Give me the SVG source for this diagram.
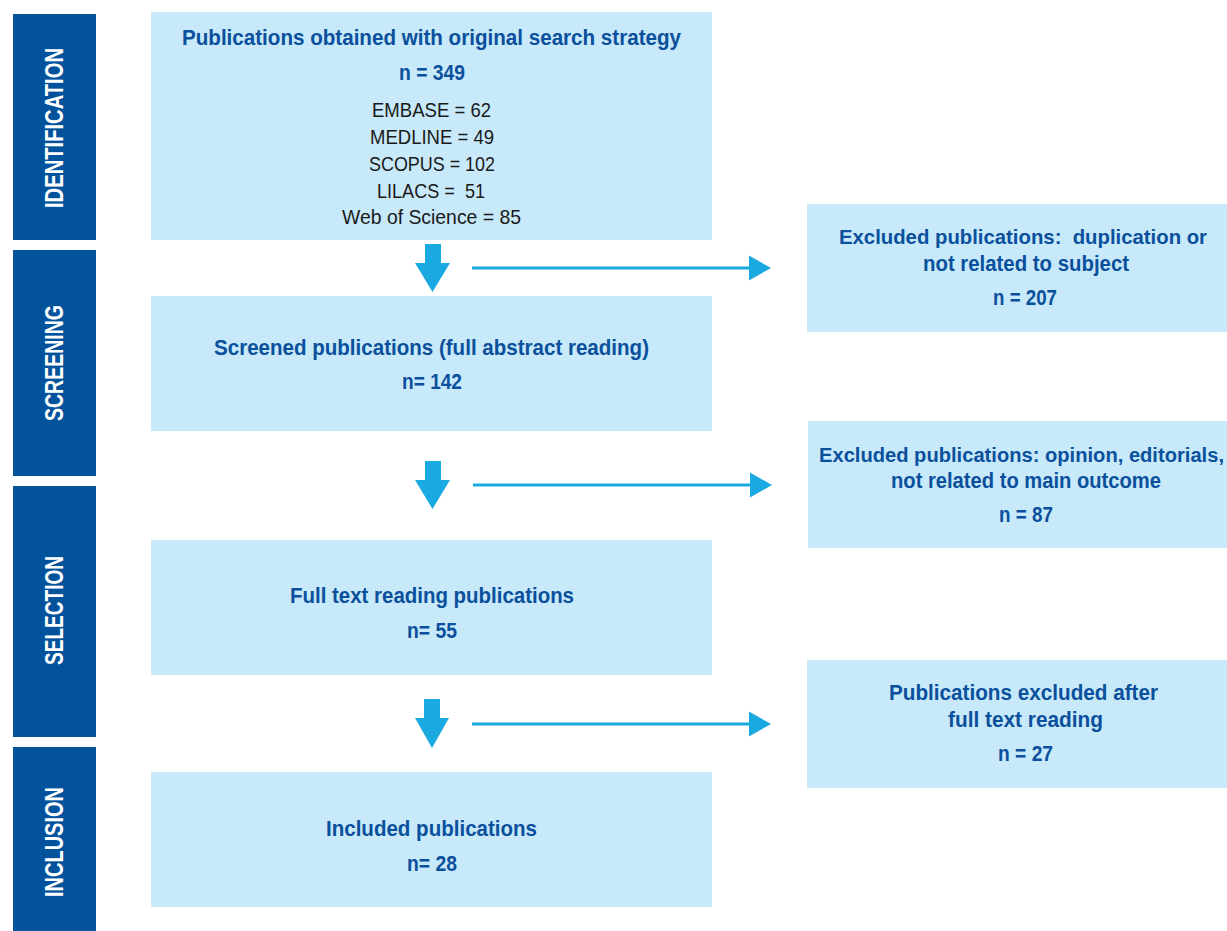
<svg xmlns="http://www.w3.org/2000/svg" width="1227" height="931" viewBox="0 0 1227 931">
<defs>
<style>
.side{fill:#02529C}
.box{fill:#C7E9F9}
.lbl{font-family:"Liberation Sans",Arial,sans-serif;font-weight:bold;font-size:26px;fill:#FFFFFF}
.t{font-family:"Liberation Sans",Arial,sans-serif;font-weight:bold;font-size:22px;fill:#0A509C;white-space:pre}
.r{font-family:"Liberation Sans",Arial,sans-serif;font-weight:normal;font-size:21px;fill:#1A1A1A;white-space:pre}
.down{fill:#1BA9E1}
.conn{stroke:#1BA9E1;stroke-width:3;fill:none}
</style>
<marker id="ah" markerUnits="userSpaceOnUse" markerWidth="22" markerHeight="26" refX="0" refY="12.5" orient="auto" overflow="visible">
<path d="M0,0 L22,12.5 L0,25 Z" fill="#1BA9E1"/>
</marker>
</defs>
<rect width="1227" height="931" fill="#FFFFFF"/>

<g id="phase-identification">
<rect class="side" x="13" y="14" width="83" height="226"/>
<text class="lbl" transform="translate(63.3,128) rotate(-90)" text-anchor="middle" textLength="160" lengthAdjust="spacingAndGlyphs">IDENTIFICATION</text>
</g>
<g id="phase-screening">
<rect class="side" x="13" y="250" width="83" height="226"/>
<text class="lbl" transform="translate(63.3,363) rotate(-90)" text-anchor="middle" textLength="116" lengthAdjust="spacingAndGlyphs">SCREENING</text>
</g>
<g id="phase-selection">
<rect class="side" x="13" y="486" width="83" height="251"/>
<text class="lbl" transform="translate(63.3,610.5) rotate(-90)" text-anchor="middle" textLength="109" lengthAdjust="spacingAndGlyphs">SELECTION</text>
</g>
<g id="phase-inclusion">
<rect class="side" x="13" y="747" width="83" height="184"/>
<text class="lbl" transform="translate(63.3,842) rotate(-90)" text-anchor="middle" textLength="110" lengthAdjust="spacingAndGlyphs">INCLUSION</text>
</g>

<g id="node-identified">
<rect class="box" x="151" y="12" width="561" height="228"/>
<text class="t" x="182" y="45" textLength="499" lengthAdjust="spacingAndGlyphs">Publications obtained with original search strategy</text>
<text class="t" x="399" y="80" textLength="66" lengthAdjust="spacingAndGlyphs">n = 349</text>
<text class="r" x="372" y="117" textLength="119" lengthAdjust="spacingAndGlyphs">EMBASE = 62</text>
<text class="r" x="370" y="144" textLength="124" lengthAdjust="spacingAndGlyphs">MEDLINE = 49</text>
<text class="r" x="369" y="171" textLength="126" lengthAdjust="spacingAndGlyphs">SCOPUS = 102</text>
<text class="r" x="377" y="198" textLength="108" lengthAdjust="spacingAndGlyphs">LILACS =  51</text>
<text class="r" x="342" y="224" textLength="179" lengthAdjust="spacingAndGlyphs">Web of Science = 85</text>
</g>

<g id="node-screened">
<rect class="box" x="151" y="296" width="561" height="135"/>
<text class="t" x="214" y="355" textLength="435" lengthAdjust="spacingAndGlyphs">Screened publications (full abstract reading)</text>
<text class="t" x="402" y="389" textLength="60" lengthAdjust="spacingAndGlyphs">n= 142</text>
</g>

<g id="node-fulltext">
<rect class="box" x="151" y="540" width="561" height="135"/>
<text class="t" x="290" y="603" textLength="284" lengthAdjust="spacingAndGlyphs">Full text reading publications</text>
<text class="t" x="407" y="638" textLength="50" lengthAdjust="spacingAndGlyphs">n= 55</text>
</g>

<g id="node-included">
<rect class="box" x="151" y="772" width="561" height="135"/>
<text class="t" x="326" y="836" textLength="211" lengthAdjust="spacingAndGlyphs">Included publications</text>
<text class="t" x="407" y="871" textLength="50" lengthAdjust="spacingAndGlyphs">n= 28</text>
</g>

<g id="node-excluded-1">
<rect class="box" x="807" y="204" width="420" height="128"/>
<text class="t" x="839" y="244" style="font-size:21px" textLength="368" lengthAdjust="spacingAndGlyphs">Excluded publications:  duplication or</text>
<text class="t" x="923" y="271" textLength="206" lengthAdjust="spacingAndGlyphs">not related to subject</text>
<text class="t" x="993" y="305" textLength="64" lengthAdjust="spacingAndGlyphs">n = 207</text>
</g>

<g id="node-excluded-2">
<rect class="box" x="808" y="421" width="419" height="127"/>
<text class="t" x="819" y="462" style="font-size:20px" textLength="405" lengthAdjust="spacingAndGlyphs">Excluded publications: opinion, editorials,</text>
<text class="t" x="891" y="488" textLength="270" lengthAdjust="spacingAndGlyphs">not related to main outcome</text>
<text class="t" x="999" y="522" textLength="54" lengthAdjust="spacingAndGlyphs">n = 87</text>
</g>

<g id="node-excluded-3">
<rect class="box" x="807" y="660" width="420" height="128"/>
<text class="t" x="889" y="700" textLength="269" lengthAdjust="spacingAndGlyphs">Publications excluded after</text>
<text class="t" x="948" y="727" textLength="155" lengthAdjust="spacingAndGlyphs">full text reading</text>
<text class="t" x="998" y="761" textLength="55" lengthAdjust="spacingAndGlyphs">n = 27</text>
</g>

<g id="connectors">
<polygon class="down" points="425,244 441,244 441,263 450,263 432.5,292 415,263 425,263"/>
<polygon class="down" points="425,461 441,461 441,480 450,480 432.5,509 415,480 425,480"/>
<polygon class="down" points="424,699 440,699 440,718 449,718 432,748 415,718 424,718"/>
<line class="conn" x1="472" y1="268" x2="749" y2="268" marker-end="url(#ah)"/>
<line class="conn" x1="473" y1="485" x2="750" y2="485" marker-end="url(#ah)"/>
<line class="conn" x1="472" y1="724" x2="749" y2="724" marker-end="url(#ah)"/>
</g>
</svg>
